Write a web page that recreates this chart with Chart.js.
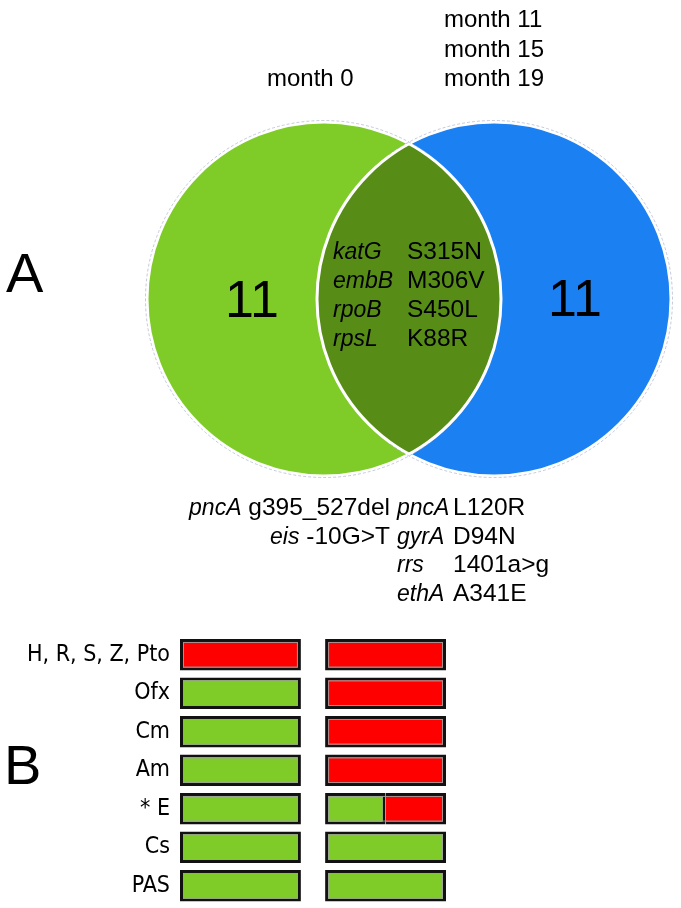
<!DOCTYPE html>
<html>
<head>
<meta charset="utf-8">
<script src="https://cdn.jsdelivr.net/npm/chart.js@4/dist/chart.umd.min.js"></script>
<style>
  html, body { margin: 0; padding: 0; background: #fff; }
  #venn-wrap { position: relative; width: 681px; height: 620px; }
  #bars-wrap { position: relative; width: 681px; height: 288px; }
</style>
</head>
<body>
<div id="venn-wrap"><canvas id="venn"></canvas></div>
<div id="bars-wrap"><canvas id="bars"></canvas></div>
<script>
/* ── Data ─────────────────────────────────────────────────────── */
const setLabels       = [['month 0'], ['month 11', 'month 15', 'month 19']];
const uniqueCounts    = [11, 11];
const sharedGenes     = ['katG', 'embB', 'rpoB', 'rpsL'];
const sharedMutations = ['S315N', 'M306V', 'S450L', 'K88R'];
const month0Genes     = ['pncA', 'eis'];
const month0Mutations = ['g395_527del', '-10G>T'];
const laterGenes      = ['pncA', 'gyrA', 'rrs', 'ethA'];
const laterMutations  = ['L120R', 'D94N', '1401a>g', 'A341E'];

const drugs        = ['H, R, S, Z, Pto', 'Ofx', 'Cm', 'Am', '* E', 'Cs', 'PAS'];
const resistMonth0 = [1, 0, 0, 0, 0, 0, 0];      // fraction of box resistant
const resistLater  = [1, 1, 1, 1, 0.5, 0, 0];

/* ── Styling / layout ─────────────────────────────────────────── */
const GREEN = '#7fcc28';
const BLUE  = '#1b80f2';
const LENS  = '#578c17';
const RED   = '#ff0000';
const SANS  = "'Liberation Sans', Arial, sans-serif";
const GENE_FONT = 'italic 23px ' + SANS;
const MUT_FONT  = '24.5px ' + SANS;

const VENN = { cx: [324, 494], cy: 299, r: 177 };

/* ── Venn (panel A) ───────────────────────────────────────────── */
const vennPlugin = {
  id: 'vennPlugin',
  afterDatasetsDraw(chart) {
    const { ctx, scales: { x, y } } = chart;
    const px = v => x.getPixelForValue(v);
    const py = v => y.getPixelForValue(v);
    const rad = x.getPixelForValue(VENN.r) - x.getPixelForValue(0);
    const L = { x: px(VENN.cx[0]), y: py(VENN.cy) };
    const R = { x: px(VENN.cx[1]), y: py(VENN.cy) };

    // intersection lens
    ctx.save();
    ctx.beginPath(); ctx.arc(L.x, L.y, rad, 0, Math.PI * 2); ctx.clip();
    ctx.beginPath(); ctx.arc(R.x, R.y, rad, 0, Math.PI * 2);
    ctx.fillStyle = LENS; ctx.fill();
    ctx.restore();

    // white outlines + faint outer ring
    ctx.save();
    [L, R].forEach(c => {
      ctx.beginPath(); ctx.arc(c.x, c.y, rad, 0, Math.PI * 2);
      ctx.strokeStyle = '#fff'; ctx.lineWidth = 3; ctx.stroke();
    });
    ctx.setLineDash([3, 2]);
    ctx.strokeStyle = 'rgba(150,160,190,0.55)'; ctx.lineWidth = 1;
    ctx.beginPath(); ctx.arc(L.x, L.y, rad + 1.5, Math.PI * 0.3, Math.PI * 1.7); ctx.stroke();
    ctx.beginPath(); ctx.arc(R.x, R.y, rad + 1.5, -Math.PI * 0.7, Math.PI * 0.7); ctx.stroke();
    ctx.restore();

    const text = (s, tx, ty, font, align) => {
      ctx.font = font; ctx.textAlign = align || 'left';
      ctx.textBaseline = 'alphabetic'; ctx.fillStyle = '#000';
      ctx.fillText(s, px(tx), py(ty));
    };

    ctx.save();
    // set headers
    setLabels[0].forEach((s, i) => text(s, 267, 86 + i * 29.5, '24px ' + SANS));
    setLabels[1].forEach((s, i) => text(s, 444, 27 + i * 29.5, '24px ' + SANS));
    // panel letter
    text('A', 6, 292, '56px ' + SANS);
    // unique counts
    text(String(uniqueCounts[0]), 252, 317, '52px ' + SANS, 'center');
    text(String(uniqueCounts[1]), 575, 316, '52px ' + SANS, 'center');
    // shared mutations in the lens
    sharedGenes.forEach((g, i) => {
      text(g, 333, 259 + i * 29, GENE_FONT);
      text(sharedMutations[i], 407, 259 + i * 29, MUT_FONT);
    });
    // month 0 only (right aligned)
    month0Genes.forEach((g, i) => {
      const yy = 515 + i * 28.5;
      ctx.font = MUT_FONT;
      const w = ctx.measureText(month0Mutations[i] + ' ').width;
      text(month0Mutations[i], 390, yy, MUT_FONT, 'right');
      text(g, 390 - w, yy, GENE_FONT, 'right');
    });
    // later months only
    laterGenes.forEach((g, i) => {
      const yy = 515 + i * 28.5;
      text(g, 397, yy, GENE_FONT);
      text(laterMutations[i], 453, yy, MUT_FONT);
    });
    ctx.restore();
  }
};

new Chart(document.getElementById('venn'), {
  type: 'bubble',
  data: {
    datasets: [
      { data: [{ x: VENN.cx[0], y: VENN.cy, r: VENN.r }], backgroundColor: GREEN, borderWidth: 0, clip: false },
      { data: [{ x: VENN.cx[1], y: VENN.cy, r: VENN.r }], backgroundColor: BLUE,  borderWidth: 0, clip: false },
    ],
  },
  options: {
    responsive: true,
    maintainAspectRatio: false,
    animation: false,
    events: [],
    layout: { padding: 0, autoPadding: false },
    plugins: { legend: { display: false }, tooltip: { enabled: false } },
    scales: {
      x: { type: 'linear', min: 0, max: 681, display: false },
      y: { type: 'linear', min: 0, max: 620, reverse: true, display: false },
    },
  },
  plugins: [vennPlugin],
});

/* ── Susceptibility boxes (panel B) ───────────────────────────── */
const COL_START = [0, 1.2];

function segments(resist, col, part) {
  return resist.map(r => {
    const s = COL_START[col], split = s + (1 - r), e = s + 1;
    if (part === 'sus') return split > s ? [s, split] : null;
    return e > split ? [split, e] : null;
  });
}

function borderFor(resist, part) {
  return ctx => {
    const r = resist[ctx.dataIndex];
    if (part === 'res' && r < 1) return { top: 3, bottom: 3, right: 3, left: 0 };
    return 3;
  };
}

const panelBPlugin = {
  id: 'panelB',
  afterDatasetsDraw(chart) {
    // thin grey line just inside each box border
    const { ctx } = chart;
    ctx.save();
    ctx.strokeStyle = 'rgba(160,160,160,0.9)';
    ctx.lineWidth = 1;
    const rows = {};
    chart.data.datasets.forEach((ds, di) => {
      chart.getDatasetMeta(di).data.forEach((bar, i) => {
        if (ds.data[i] == null) return;
        const { x, base, y, height } = bar.getProps(['x', 'base', 'y', 'height'], true);
        const key = i + '_' + ds.col;
        const l = Math.min(x, base), r = Math.max(x, base);
        if (!rows[key]) rows[key] = { l, r, t: y - height / 2, b: y + height / 2 };
        rows[key].l = Math.min(rows[key].l, l);
        rows[key].r = Math.max(rows[key].r, r);
      });
    });
    Object.values(rows).forEach(b => {
      ctx.strokeRect(b.l + 3.5, b.t + 3.5, b.r - b.l - 7, b.b - b.t - 7);
    });
    ctx.restore();
  },
  afterDraw(chart) {
    const { ctx, scales: { y } } = chart;
    ctx.save();
    ctx.font = '56px ' + SANS; ctx.fillStyle = '#000';
    ctx.textAlign = 'left'; ctx.textBaseline = 'alphabetic';
    ctx.fillText('B', 4, y.getPixelForValue(3) + 14);
    ctx.restore();
  }
};

const barCommon = {
  borderColor: '#111',
  borderSkipped: false,
  grouped: false,
  categoryPercentage: 1,
  barPercentage: 0.82,
};

new Chart(document.getElementById('bars'), {
  type: 'bar',
  data: {
    labels: drugs,
    datasets: [
      { ...barCommon, col: 0, label: 'month 0 S', data: segments(resistMonth0, 0, 'sus'), backgroundColor: GREEN, borderWidth: borderFor(resistMonth0, 'sus') },
      { ...barCommon, col: 0, label: 'month 0 R', data: segments(resistMonth0, 0, 'res'), backgroundColor: RED,   borderWidth: borderFor(resistMonth0, 'res') },
      { ...barCommon, col: 1, label: 'later S',   data: segments(resistLater, 1, 'sus'),  backgroundColor: GREEN, borderWidth: borderFor(resistLater, 'sus') },
      { ...barCommon, col: 1, label: 'later R',   data: segments(resistLater, 1, 'res'),  backgroundColor: RED,   borderWidth: borderFor(resistLater, 'res') },
    ],
  },
  options: {
    indexAxis: 'y',
    responsive: true,
    maintainAspectRatio: false,
    animation: false,
    events: [],
    layout: { padding: { left: 0, right: 235, top: 15.5, bottom: 3 }, autoPadding: false },
    plugins: { legend: { display: false }, tooltip: { enabled: false } },
    scales: {
      x: { type: 'linear', min: 0, max: 2.2, display: false },
      y: {
        afterFit(scale) {
          scale.width = 180;
          scale.paddingTop = 0;
          scale.paddingBottom = 0;
        },
        grid: { display: false, drawTicks: false },
        border: { display: false },
        ticks: {
          color: '#000',
          padding: 10,
          autoSkip: false,
          font: { family: "'Liberation Sans Narrow', 'DejaVu Sans Condensed', sans-serif", size: 23 },
        },
      },
    },
  },
  plugins: [panelBPlugin],
});
</script>
</body>
</html>
